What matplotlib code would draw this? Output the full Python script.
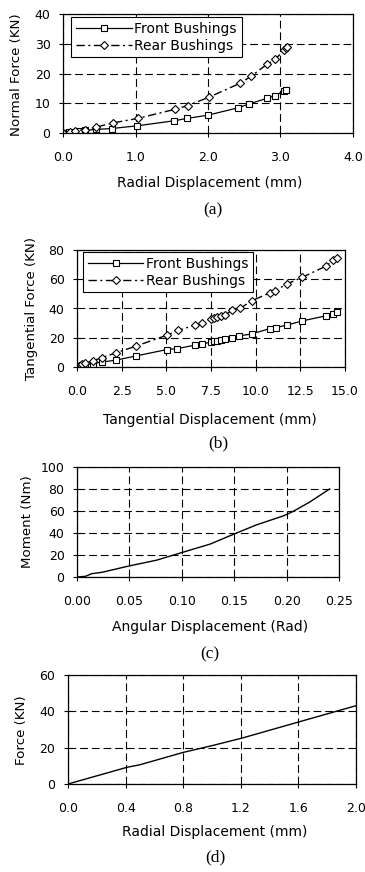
import numpy as np
import matplotlib
matplotlib.use("Agg")
import matplotlib.pyplot as plt
from matplotlib.ticker import FormatStrFormatter

plt.rcParams['font.family'] = ['DejaVu Sans']

# (a) normal force vs radial displacement
a_front_x = [0.0, 0.08, 0.15, 0.22, 0.31, 0.45, 0.67, 1.02, 1.53, 1.71, 2.0, 2.42, 2.57, 2.82, 2.92, 3.05, 3.07, 3.08]
a_front_y = [0.0, 0.4, 0.5, 0.7, 0.9, 1.2, 1.5, 2.4, 4.1, 4.9, 6.0, 8.5, 9.8, 11.7, 12.5, 14.2, 14.4, 14.6]
a_rear_x = [0.0, 0.1, 0.17, 0.31, 0.46, 0.69, 1.03, 1.55, 1.72, 2.01, 2.44, 2.59, 2.82, 2.93, 3.05, 3.07, 3.09]
a_rear_y = [0.0, 0.5, 0.8, 1.1, 2.0, 3.4, 4.9, 8.0, 9.2, 12.0, 16.7, 19.0, 23.2, 24.8, 27.9, 28.5, 29.0]

# (b) tangential force vs tangential displacement
b_front_x = [0.0, 0.1, 0.2, 0.3, 0.45, 0.88, 1.38, 2.16, 3.28, 5.02, 5.6, 6.6, 6.98, 7.48, 7.67, 7.86, 8.04,
             8.28, 8.66, 9.09, 9.78, 10.8, 11.14, 11.74, 12.6, 13.94, 14.35, 14.53]
b_front_y = [0.0, 0.5, 0.9, 1.2, 1.6, 2.3, 3.4, 4.6, 7.5, 11.9, 12.6, 14.9, 15.5, 17.1, 17.6, 18.1, 18.5,
             19.0, 19.9, 21.3, 22.6, 26.3, 27.0, 28.6, 31.5, 35.0, 36.1, 37.3]
b_rear_x = [0.0, 0.1, 0.2, 0.3, 0.45, 0.88, 1.38, 2.16, 3.28, 5.02, 5.67, 6.6, 6.98, 7.48, 7.67, 7.86, 8.04,
            8.28, 8.66, 9.12, 9.78, 10.8, 11.08, 11.74, 12.6, 13.94, 14.35, 14.53]
b_rear_y = [0.0, 0.6, 1.2, 1.8, 2.6, 4.1, 6.4, 9.6, 14.2, 21.7, 25.1, 28.6, 29.9, 33.1, 33.8, 34.3, 34.7,
            35.4, 38.7, 40.0, 45.3, 50.7, 52.1, 56.7, 61.3, 69.0, 73.1, 74.3]

# (c) moment vs angular displacement
c_x = [0.0, 0.008, 0.014, 0.024, 0.05, 0.076, 0.095, 0.127, 0.150, 0.171, 0.197, 0.206, 0.222, 0.241]
c_y = [0.0, 0.6, 3.0, 4.3, 10.1, 15.3, 20.8, 29.9, 39.1, 47.3, 55.6, 59.5, 68.1, 80.0]

# (d) force vs radial displacement
d_x = [0.0, 0.41, 0.50, 0.80, 1.01, 1.21, 1.60, 2.0]
d_y = [0.0, 9.2, 10.6, 17.4, 21.3, 25.3, 34.1, 43.1]

W, H = 365, 872
fig = plt.figure(figsize=(W / 100, H / 100), dpi=100)

TICK_FS = 9
XLAB_FS = 10
YLAB_FS = 9.6
LEG_FS = 10
CAP_FS = 12.5
grid_ls = (0, (7, 3.5))
dashdot = (0, (6, 2.5, 1.5, 2.5))


def make_axes(l, r, t, b):
    ax = fig.add_axes([l / W, 1 - b / H, (r - l) / W, (b - t) / H])
    for s in ax.spines.values():
        s.set_linewidth(0.9)
        s.set_color('black')
    ax.grid(True, color='black', linestyle=grid_ls, linewidth=0.8)
    ax.set_axisbelow(True)
    ax.tick_params(direction='out', length=3, width=0.8, labelsize=TICK_FS, colors='black')
    ax.tick_params(axis='x', pad=10)
    ax.tick_params(axis='y', pad=6)
    return ax


def ftext(x, y, s, **kw):
    fig.text(x / W, 1 - y / H, s, ha='center', va='center', **kw)


def add_legend(ax, ax_x, ax_y):
    leg = ax.legend(loc='upper left', bbox_to_anchor=(ax_x, ax_y), borderaxespad=0,
                    fontsize=LEG_FS, handlelength=4.0, handletextpad=0.2, labelspacing=0.2,
                    borderpad=0.35, fancybox=False, framealpha=1, edgecolor='black')
    leg.get_frame().set_linewidth(0.8)


mk = dict(markersize=4.5, markerfacecolor='white', markeredgecolor='black', markeredgewidth=0.8)

# (a)
ax = make_axes(63, 353, 14, 133)
ax.plot(a_front_x, a_front_y, color='black', lw=0.9, marker='s', label='Front Bushings', **mk)
ax.plot(a_rear_x, a_rear_y, color='black', lw=1.0, linestyle=dashdot, marker='D', label='Rear Bushings',
        **dict(mk, markersize=4))
ax.set_xlim(0, 4)
ax.set_ylim(0, 40)
ax.set_xticks(np.arange(0, 4.01, 1.0))
ax.set_yticks(np.arange(0, 41, 10))
ax.xaxis.set_major_formatter(FormatStrFormatter('%.1f'))
add_legend(ax, 0.028, 0.975)
ftext(17, 75, 'Normal Force (KN)', rotation=90, fontsize=YLAB_FS)
ftext(210, 183, 'Radial Displacement (mm)', fontsize=XLAB_FS)
ftext(213, 210, '(a)', fontsize=CAP_FS, family='Liberation Serif')

# (b)
ax = make_axes(77, 345, 250, 367)
ax.plot(b_front_x, b_front_y, color='black', lw=0.9, marker='s', label='Front Bushings', **mk)
ax.plot(b_rear_x, b_rear_y, color='black', lw=1.0, linestyle=dashdot, marker='D', label='Rear Bushings',
        **dict(mk, markersize=4))
ax.set_xlim(0, 15)
ax.set_ylim(0, 80)
ax.set_xticks(np.arange(0, 15.01, 2.5))
ax.set_yticks(np.arange(0, 81, 20))
ax.xaxis.set_major_formatter(FormatStrFormatter('%.1f'))
add_legend(ax, 0.022, 0.983)
ftext(32, 308, 'Tangential Force (KN)', rotation=90, fontsize=YLAB_FS)
ftext(210, 420, 'Tangential Displacement (mm)', fontsize=XLAB_FS)
ftext(218, 443, '(b)', fontsize=CAP_FS, family='Liberation Serif')

# (c)
ax = make_axes(77, 339, 467, 577)
ax.plot(c_x, c_y, color='black', lw=1.0)
ax.set_xlim(0, 0.25)
ax.set_ylim(0, 100)
ax.set_xticks(np.arange(0, 0.251, 0.05))
ax.set_yticks(np.arange(0, 101, 20))
ax.xaxis.set_major_formatter(FormatStrFormatter('%.2f'))
ftext(28, 522, 'Moment (Nm)', rotation=90, fontsize=YLAB_FS)
ftext(210, 627, 'Angular Displacement (Rad)', fontsize=XLAB_FS)
ftext(210, 654, '(c)', fontsize=CAP_FS, family='Liberation Serif')

# (d)
ax = make_axes(68, 356, 675, 784)
ax.plot(d_x, d_y, color='black', lw=1.0)
ax.set_xlim(0, 2)
ax.set_ylim(0, 60)
ax.set_xticks(np.arange(0, 2.01, 0.4))
ax.set_yticks(np.arange(0, 61, 20))
ax.xaxis.set_major_formatter(FormatStrFormatter('%.1f'))
ftext(22, 730, 'Force (KN)', rotation=90, fontsize=YLAB_FS)
ftext(215, 832, 'Radial Displacement (mm)', fontsize=XLAB_FS)
ftext(215, 857, '(d)', fontsize=CAP_FS, family='Liberation Serif')

fig.savefig('out.png', dpi=100)
